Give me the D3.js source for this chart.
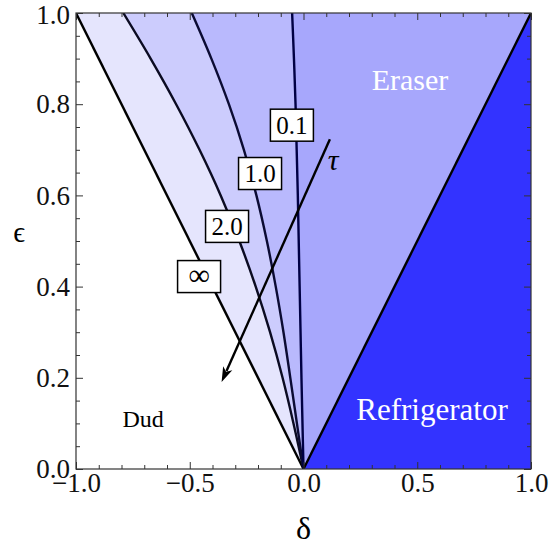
<!DOCTYPE html>
<html><head><meta charset="utf-8">
<script src="https://cdn.jsdelivr.net/npm/d3@7"></script>
<style>body{margin:0;background:#fff}svg{display:block}</style>
</head><body>
<svg id="chart" width="553" height="546"></svg>
<script>
// ---- data (δ on x, ε on y) ----
const deltaTicks = [-1.0, -0.5, 0.0, 0.5, 1.0];
const epsTicks = [0.0, 0.2, 0.4, 0.6, 0.8, 1.0];
const deltaMinor = [-0.9,-0.8,-0.7,-0.6,-0.4,-0.3,-0.2,-0.1,0.1,0.2,0.3,0.4,0.6,0.7,0.8,0.9];
const epsMinor = [0.05,0.1,0.15,0.25,0.3,0.35,0.45,0.5,0.55,0.65,0.7,0.75,0.85,0.9,0.95];

// contour curves: [epsilon, delta]
const tauInf = [[1,-1],[0,0]];
const tau2 = [[1,-0.792],[0.9,-0.672],[0.8,-0.560],[0.7,-0.457],[0.6,-0.364],[0.5,-0.282],[0.4,-0.210],[0.3,-0.147],[0.2,-0.092],[0.1,-0.044],[0,0]];
const tau1 = [[1,-0.491],[0.9,-0.405],[0.8,-0.328],[0.7,-0.262],[0.6,-0.207],[0.5,-0.161],[0.4,-0.122],[0.3,-0.088],[0.2,-0.058],[0.1,-0.029],[0,0]];
const tau01 = [[1,-0.050],[0.9,-0.042],[0.8,-0.035],[0.7,-0.030],[0.6,-0.025],[0.5,-0.021],[0.4,-0.017],[0.3,-0.013],[0.2,-0.009],[0.1,-0.0045],[0,0]];
const fridgeEdge = [[0,0],[1,1]];

const contourLabels = ["0.1", "1.0", "2.0", "\u221E"];
const labelPos = [[-0.051,0.754],[-0.191,0.648],[-0.336,0.532],[-0.459,0.422]]; // [delta, eps]
const arrowFrom = [0.116, 0.723];
const arrowTo = [-0.36, 0.191];
const tauPos = [0.13, 0.655];
const regionNames = ["Eraser", "Refrigerator", "Dud"];
const regionPos = [[0.468,0.831],[0.565,0.107],[-0.705,0.092]];

// ---- drawing ----
const svg = d3.select("#chart");
const x = d3.scaleLinear([-1,1],[76,531]);
const y = d3.scaleLinear([0,1],[469,13]);
const font = "'Liberation Serif','Times New Roman',serif";

svg.append("clipPath").attr("id","plot").append("rect")
  .attr("x",x(-1)).attr("y",y(1)).attr("width",x(1)-x(-1)).attr("height",y(0)-y(1));
const g = svg.append("g").attr("clip-path","url(#plot)");

const toPts = c => c.map(d => [x(d[1]), y(d[0])]);
const lineGen = d3.line().curve(d3.curveCatmullRom.alpha(0.5));
function regionRight(curve){
  return lineGen(toPts(curve)) + "L" + x(1) + "," + y(0) + "L" + x(1) + "," + y(1) + "Z";
}
const fills = [[tauInf,"#e5e5fd"],[tau2,"#ccccfd"],[tau1,"#b9b9fd"],[tau01,"#a7a7fc"]];
fills.forEach(([c,col]) => g.append("path").attr("d", regionRight(c)).attr("fill", col));
g.append("path").attr("d", d3.line()([[x(0),y(0)],[x(1),y(1)],[x(1),y(0)]]) + "Z").attr("fill","#3333ff");

[[tauInf,"#000"],[tau2,"#0b0b22"],[tau1,"#0b0b33"],[tau01,"#000044"],[fridgeEdge,"#000"]].forEach(([c,col]) =>
  g.append("path").attr("d", lineGen(toPts(c))).attr("fill","none").attr("stroke",col).attr("stroke-width",2.4));

// arrow
const ax1 = x(arrowFrom[0]), ay1 = y(arrowFrom[1]), ax2 = x(arrowTo[0]), ay2 = y(arrowTo[1]);
const ang = Math.atan2(ay2-ay1, ax2-ax1);
const hl = 15, hw = 5;
const bx = ax2 - hl*Math.cos(ang), by = ay2 - hl*Math.sin(ang);
svg.append("line").attr("x1",ax1).attr("y1",ay1).attr("x2",bx+3*Math.cos(ang)).attr("y2",by+3*Math.sin(ang))
  .attr("stroke","#000").attr("stroke-width",2.4);
svg.append("path").attr("d", d3.line()([[ax2,ay2],[bx - hw*Math.sin(ang), by + hw*Math.cos(ang)],[bx + 4*Math.cos(ang), by + 4*Math.sin(ang)],[bx + hw*Math.sin(ang), by - hw*Math.cos(ang)]]) + "Z")
  .attr("fill","#000");
svg.append("text").attr("x",x(tauPos[0])).attr("y",y(tauPos[1])).attr("text-anchor","middle")
  .attr("font-family",font).attr("font-style","italic").attr("font-size",30).text("\u03C4");

// contour labels
contourLabels.forEach((t,i) => {
  const cx = x(labelPos[i][0]), cy = y(labelPos[i][1]);
  svg.append("rect").attr("x",cx-21.5).attr("y",cy-16).attr("width",43).attr("height",32)
    .attr("fill","#fff").attr("stroke","#000").attr("stroke-width",1.5);
  svg.append("text").attr("x",cx).attr("y",cy+8.5).attr("text-anchor","middle")
    .attr("font-family",font).attr("font-size", t === "\u221E" ? 30 : 25).text(t);
});

// region labels
const regionColors = ["#fff","#fff","#000"];
const regionSizes = [30, 31, 24];
regionNames.forEach((t,i) => svg.append("text").attr("x",x(regionPos[i][0])).attr("y",y(regionPos[i][1]))
  .attr("text-anchor","middle").attr("font-family",font).attr("font-size",regionSizes[i])
  .attr("fill",regionColors[i]).text(t));

// axes
const fmt = d => d3.format(".1f")(d).replace("-", "\u2212");
function axis(gen, transform, scale, ticks, size, pad, withLabels){
  const a = svg.append("g").attr("transform",transform)
    .call(gen(scale).tickValues(ticks).tickSize(size).tickPadding(pad)
      .tickFormat(withLabels ? fmt : ""));
  a.select(".domain").remove();
  a.selectAll("line").attr("stroke","#333").attr("stroke-width",1);
  a.selectAll("text").attr("font-family",font).attr("font-size",27).attr("fill","#111");
  return a;
}
axis(d3.axisBottom, `translate(0,${y(0)})`, x, deltaTicks, -7, 4, true);
axis(d3.axisBottom, `translate(0,${y(0)})`, x, deltaMinor, -4, 0, false);
axis(d3.axisTop, `translate(0,${y(1)})`, x, deltaTicks, -7, 0, false);
axis(d3.axisTop, `translate(0,${y(1)})`, x, deltaMinor, -4, 0, false);
const yl = axis(d3.axisLeft, `translate(${x(-1)},0)`, y, epsTicks, -7, 6, true);
yl.selectAll("text").filter(d => d === 1).attr("dy", "0.4em");
axis(d3.axisLeft, `translate(${x(-1)},0)`, y, epsMinor, -4, 0, false);
axis(d3.axisRight, `translate(${x(1)},0)`, y, epsTicks, -7, 0, false);
axis(d3.axisRight, `translate(${x(1)},0)`, y, epsMinor, -4, 0, false);

svg.append("rect").attr("x",x(-1)).attr("y",y(1)).attr("width",x(1)-x(-1)).attr("height",y(0)-y(1))
  .attr("fill","none").attr("stroke","#333").attr("stroke-width",1.2);

// axis titles
svg.append("text").attr("x",(x(-1)+x(1))/2).attr("y",539).attr("text-anchor","middle")
  .attr("font-family",font).attr("font-size",32).text("\u03B4");
svg.append("text").attr("x",19).attr("y",y(0.5)+1).attr("text-anchor","middle")
  .attr("font-family",font).attr("font-size",29).text("\u03F5");
</script>
</body></html>
